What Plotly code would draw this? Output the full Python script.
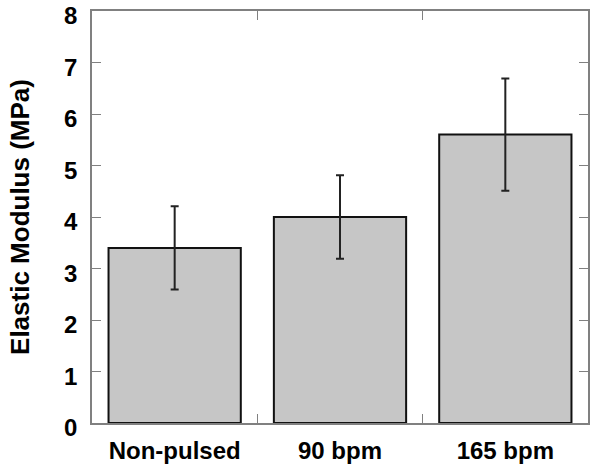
import plotly.graph_objects as go

categories = ["Non-pulsed", "90 bpm", "165 bpm"]
modulus = [3.4, 4.0, 5.6]
errors = [0.81, 0.81, 1.09]
y_ticks = [0, 1, 2, 3, 4, 5, 6, 7, 8]

FONT = "Liberation Sans, Arial, sans-serif"

fig = go.Figure()
fig.add_trace(go.Bar(
    x=categories, y=modulus, width=0.8,
    marker=dict(color="#c6c6c6", line=dict(color="#111111", width=2)),
    error_y=dict(type="data", array=errors, visible=True,
                 color="#222222", thickness=2, width=4),
))

axis_color = "#808080"
fig.update_layout(
    width=600, height=472,
    margin=dict(l=92, r=12, t=11, b=49),
    paper_bgcolor="white", plot_bgcolor="white",
    showlegend=False,
    font=dict(family=FONT, color="black"),
)
fig.update_xaxes(
    type="category", tickson="boundaries", automargin=False,
    ticks="inside", ticklen=9, tickwidth=1, tickcolor=axis_color,
    showline=True, linecolor=axis_color, linewidth=1.5, mirror="ticks",
    showgrid=False,
    tickfont=dict(size=24, family=FONT, weight="bold"),
    ticklabelstandoff=5,
)
fig.update_yaxes(
    range=[0, 8], tickvals=y_ticks, automargin=False,
    ticks="inside", ticklen=9, tickwidth=1, tickcolor=axis_color,
    showline=True, linecolor=axis_color, linewidth=1.5, mirror="ticks",
    showgrid=False, zeroline=False, ticklabeloverflow="allow",
    tickfont=dict(size=24, family=FONT, weight="bold"),
    ticklabelstandoff=8, ticklabelshift=5,
    title=dict(text="Elastic Modulus (MPa)", standoff=27,
               font=dict(size=26, family=FONT, weight="bold")),
)

fig.write_html("out.html", config={"displayModeBar": False},
               post_script="document.body.style.margin='0';")
